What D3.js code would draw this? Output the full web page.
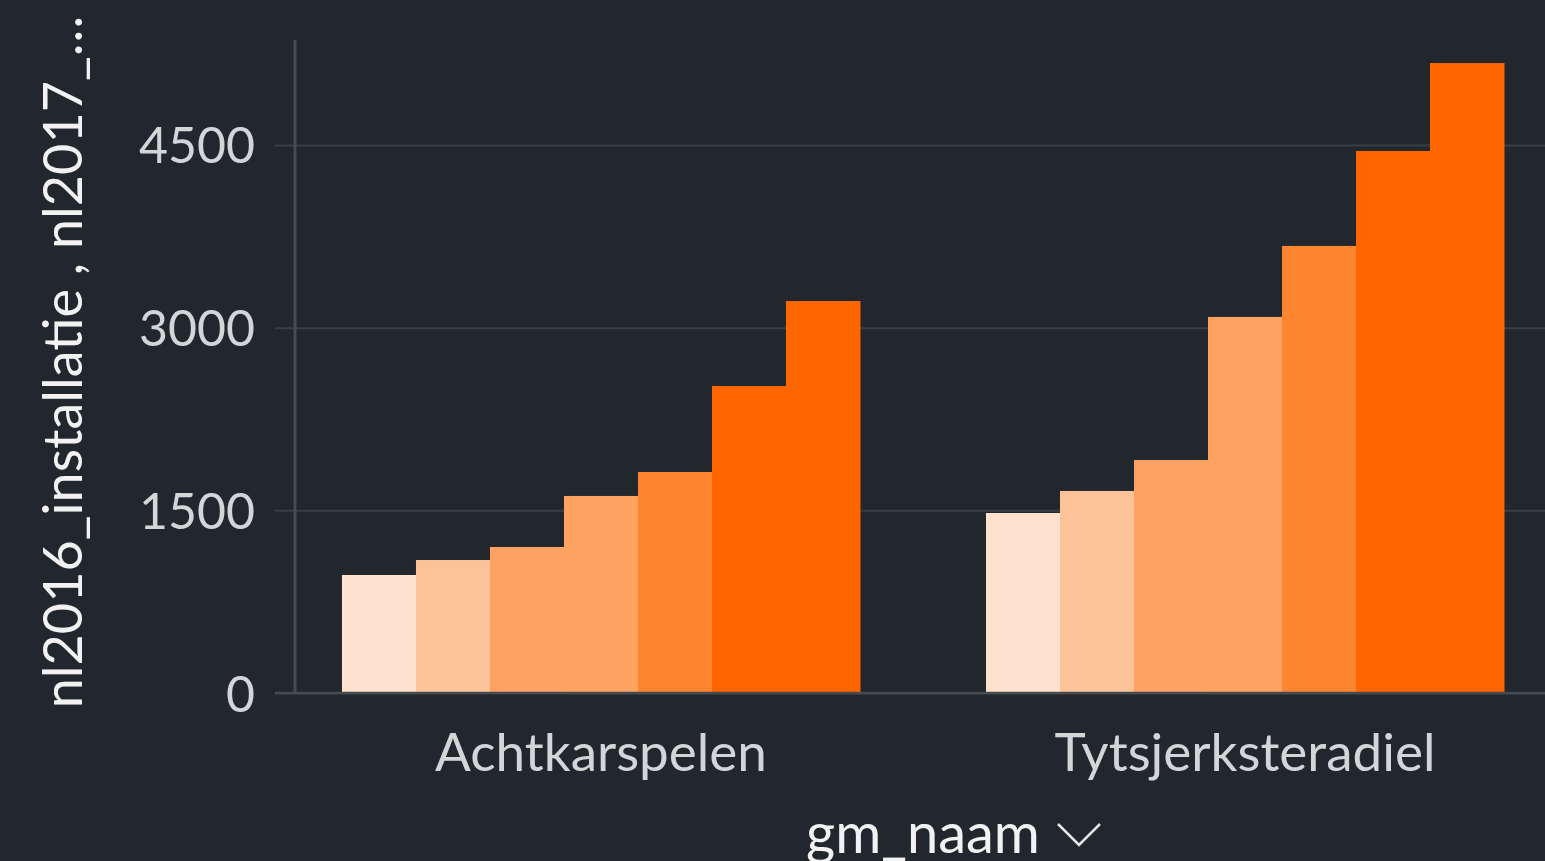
<!DOCTYPE html>
<html>
<head>
<meta charset="utf-8">
<script src="https://cdn.jsdelivr.net/npm/d3@7"></script>
<style>
  html, body { margin: 0; padding: 0; background: #22262d; }
  svg { display: block; }
  text { font-family: Lato, "Open Sans", sans-serif; }
</style>
</head>
<body>
<svg id="chart" width="1545" height="861"></svg>
<script>
// ---- data ----
const categories = ["Achtkarspelen", "Tytsjerksteradiel"];
const seriesNames = ["s1", "s2", "s3", "s4", "s5", "s6", "s7"];
const seriesColors = ["#fee2cf", "#fdc398", "#fda263", "#fea262", "#fe852f", "#ff6600", "#ff6600"];
const valuesAchtkarspelen = [969, 1092, 1199, 1618, 1815, 2521, 3219];
const valuesTytsjerksteradiel = [1478, 1659, 1913, 3088, 3671, 4451, 5173];
const yTicks = [0, 1500, 3000, 4500];
const yTitle = "nl2016_installatie , nl2017_\u2026";
const xTitle = "gm_naam";

const dataRows = [valuesAchtkarspelen, valuesTytsjerksteradiel];

// ---- layout ----
const W = 1545, H = 861;
const mLeft = 295, mRight = 1545, mTop = 40, mBottom = 693;

const svg = d3.select("#chart");
svg.append("rect").attr("width", W).attr("height", H).attr("fill", "#22262d");

const y = d3.scaleLinear().domain([0, 5362]).range([mBottom, mTop]);
const x0 = d3.scaleBand().domain(categories).range([mLeft, mRight])
  .paddingInner(0.1957).paddingOuter(0.0683).align(0.534);
const x1 = d3.scaleBand().domain(seriesNames).range([0, x0.bandwidth()]).padding(0);

// gridlines + ticks
const yAxis = d3.axisLeft(y).tickValues(yTicks).tickSize(-(mRight - mLeft)).tickPadding(0).tickFormat(d3.format("d"));
const gy = svg.append("g").attr("transform", `translate(${mLeft},0)`).call(yAxis);
gy.select(".domain").remove();
gy.selectAll(".tick line").attr("stroke", "#3a3f46").attr("stroke-width", 2).attr("x1", -20);
gy.selectAll(".tick text")
  .attr("x", -40).attr("dy", "0.36em")
  .attr("fill", "#d4d5d7").attr("font-size", 50).attr("font-family", "Lato, sans-serif")
  .attr("text-anchor", "end");

// bars
const groups = svg.append("g").selectAll("g").data(categories).join("g")
  .attr("transform", d => `translate(${x0(d)},0)`);
groups.selectAll("rect")
  .data((d, i) => dataRows[i].map((v, j) => ({ key: seriesNames[j], value: v, color: seriesColors[j] })))
  .join("rect")
  .attr("x", d => x1(d.key))
  .attr("y", d => y(d.value))
  .attr("width", x1.bandwidth() + 0.5)
  .attr("height", d => y(0) - y(d.value))
  .attr("fill", d => d.color);

// baseline and y axis line
svg.append("line").attr("x1", mLeft - 20).attr("x2", mRight).attr("y1", y(0)).attr("y2", y(0))
  .attr("stroke", "#464b52").attr("stroke-width", 2.5);
svg.append("line").attr("x1", mLeft).attr("x2", mLeft).attr("y1", mTop).attr("y2", y(0))
  .attr("stroke", "#474c53").attr("stroke-width", 3);

// x axis labels
const xAxis = d3.axisBottom(x0).tickSize(0).tickPadding(0);
const gx = svg.append("g").attr("transform", `translate(0,${mBottom})`).call(xAxis);
gx.select(".domain").remove();
gx.selectAll(".tick text")
  .attr("y", 78).attr("dy", "0")
  .attr("fill", "#d4d5d7").attr("font-size", 53).attr("font-family", "Lato, sans-serif");

// x title
svg.append("text").attr("x", 923).attr("y", 853)
  .attr("text-anchor", "middle").attr("fill", "#f2f2f2").attr("font-size", 56)
  .text(xTitle);
svg.append("path").attr("d", "M1058,824 L1079,845 L1100,824")
  .attr("fill", "none").attr("stroke", "#e6e6e6").attr("stroke-width", 2.5);

// y title
svg.append("text")
  .attr("transform", "translate(82,362) rotate(-90)")
  .attr("text-anchor", "middle").attr("fill", "#f2f2f2").attr("font-size", 54)
  .text(yTitle);
</script>
</body>
</html>
